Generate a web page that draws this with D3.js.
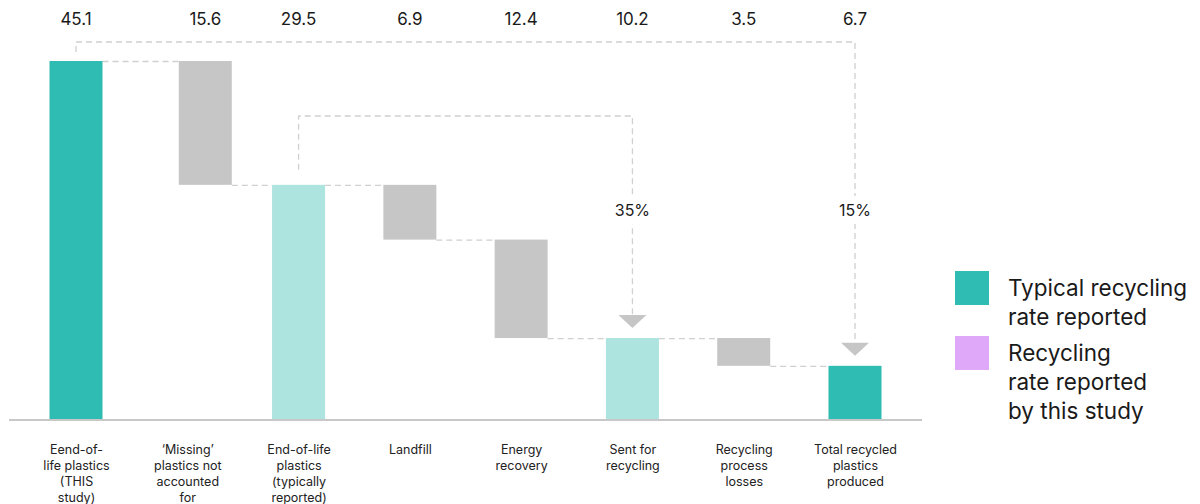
<!DOCTYPE html>
<html>
<head>
<meta charset="utf-8">
<script src="https://cdn.jsdelivr.net/npm/d3@7"></script>
<style>
  html, body { margin: 0; padding: 0; background: #fff; }
  svg { display: block; font-family: "Inter", "Noto Sans", sans-serif; }
</style>
</head>
<body>
<svg id="chart" width="1200" height="504"></svg>
<script>
// Plastic flows (million tonnes) through the waterfall
const categories = [
  "Eend-of-\nlife plastics\n(THIS\nstudy)",
  "\u2018Missing\u2019\nplastics not\naccounted\nfor",
  "End-of-life\nplastics\n(typically\nreported)",
  "Landfill",
  "Energy\nrecovery",
  "Sent for\nrecycling",
  "Recycling\nprocess\nlosses",
  "Total recycled\nplastics\nproduced"
];
const values = [45.1, 15.6, 29.5, 6.9, 12.4, 10.2, 3.5, 6.7];
// "total" bars stand on the baseline, "step" bars hang from the running total
const kinds = ["total", "step", "total", "step", "step", "total", "step", "total"];
const barColours = ["#2ebcb3", "#c6c6c6", "#ade4e0", "#c6c6c6", "#c6c6c6", "#ade4e0", "#c6c6c6", "#2ebcb3"];
const legendLabels = [["Typical recycling", "rate reported"], ["Recycling", "rate reported", "by this study"]];
const legendColours = ["#2ebcb3", "#e0a8f8"];
// recycling-rate brackets: [from bar, to bar]
const rateLinks = [[0, 7], [2, 5]];

const svg = d3.select("#chart");
const dashColour = "#d0d0d0";

const x = d3.scalePoint().domain(d3.range(categories.length)).range([76, 855]);
const y = d3.scaleLinear().domain([0, 45.1]).range([419, 61]);
const barW = 53;
// the 'missing' bar sits a little right of its label column
const nudge = i => (i === 1 ? 18 : 0);
const cx = i => x(i) + nudge(i);

// running totals -> bar extents
let running = 0;
const bars = values.map((v, i) => {
  let lo, hi;
  if (kinds[i] === "total") { lo = 0; hi = v; running = v; }
  else { hi = running; lo = running - v; running = lo; }
  return { i, v, lo, hi };
});

// connectors between consecutive bars
const links = [];
for (let i = 0; i < bars.length - 1; i++) {
  const a = bars[i];
  const level = kinds[i] === "total" ? a.hi : a.lo;
  links.push({ x1: cx(i) + barW / 2, x2: cx(i + 1) - barW / 2, yv: level });
}
svg.append("g").selectAll("line").data(links).join("line")
  .attr("x1", d => d.x1).attr("x2", d => d.x2)
  .attr("y1", d => y(d.yv) + 0.5).attr("y2", d => y(d.yv) + 0.5)
  .attr("stroke", dashColour).attr("stroke-width", 1.3)
  .attr("stroke-dasharray", "6,4");

// bars
svg.append("g").selectAll("rect").data(bars).join("rect")
  .attr("x", d => cx(d.i) - barW / 2)
  .attr("width", barW)
  .attr("y", d => y(d.hi))
  .attr("height", d => y(d.lo) - y(d.hi))
  .attr("fill", d => barColours[d.i]);

// baseline
svg.append("line")
  .attr("x1", 9).attr("x2", 922)
  .attr("y1", y(0) + 1).attr("y2", y(0) + 1)
  .attr("stroke", "#c8c8c8").attr("stroke-width", 2);

// value labels along the top
svg.append("g").selectAll("text").data(bars).join("text")
  .attr("x", d => cx(d.i))
  .attr("y", 25)
  .attr("text-anchor", "middle")
  .attr("font-size", 17)
  .attr("fill", "#1a1a1a")
  .text(d => d.v);

// category labels via a bottom axis
const axis = d3.axisBottom(x).tickSize(0).tickPadding(0).tickFormat(() => "");
const axG = svg.append("g").attr("transform", `translate(0,${y(0)})`).call(axis);
axG.select(".domain").remove();
axG.selectAll(".tick text").each(function (i) {
  const t = d3.select(this)
    .attr("y", 35).attr("dy", 0)
    .attr("font-size", 12.5).attr("fill", "#222")
    .attr("font-family", "Inter, 'Noto Sans', sans-serif");
  categories[i].split("\n").forEach((line, k) => {
    t.append("tspan").attr("x", 0).attr("y", 35 + k * 16).text(line);
  });
});

// recycling-rate brackets with arrowheads
const fmtPct = d3.format(".0%");
const rateTop = [42, 116];
const startGap = [9, 15];
const labelY = 210;
rateLinks.forEach(([a, b], k) => {
  const xa = cx(a), xb = cx(b);
  const ya = y(bars[a].hi) - startGap[k];
  const tipY = y(bars[b].hi) - 10;
  const headH = 13, headW = 14;
  svg.append("path")
    .attr("d", `M${xa},${ya}V${rateTop[k]}H${xb}V${tipY - headH}`)
    .attr("fill", "none").attr("stroke", dashColour)
    .attr("stroke-width", 1.3).attr("stroke-dasharray", "6,4");
  svg.append("path")
    .attr("d", `M${xb - headW},${tipY - headH}L${xb + headW},${tipY - headH}L${xb},${tipY}Z`)
    .attr("fill", "#c6c6c6");
  svg.append("rect")
    .attr("x", xb - 24).attr("y", labelY - 14).attr("width", 48).attr("height", 28)
    .attr("fill", "#fff");
  svg.append("text")
    .attr("x", xb).attr("y", labelY + 6)
    .attr("text-anchor", "middle").attr("font-size", 16).attr("fill", "#1a1a1a")
    .text(fmtPct(bars[b].v / bars[a].v));
});

// legend
const legend = svg.append("g").attr("transform", "translate(955,271)");
const rowTop = [0, 65];
legendLabels.forEach((lines, k) => {
  legend.append("rect")
    .attr("x", 0).attr("y", rowTop[k]).attr("width", 34).attr("height", 34)
    .attr("fill", legendColours[k]);
  const t = legend.append("text").attr("font-size", 22.5).attr("fill", "#1a1a1a");
  lines.forEach((line, j) => {
    t.append("tspan").attr("x", 53).attr("y", rowTop[k] + 25 + j * 29).text(line);
  });
});
</script>
</body>
</html>
